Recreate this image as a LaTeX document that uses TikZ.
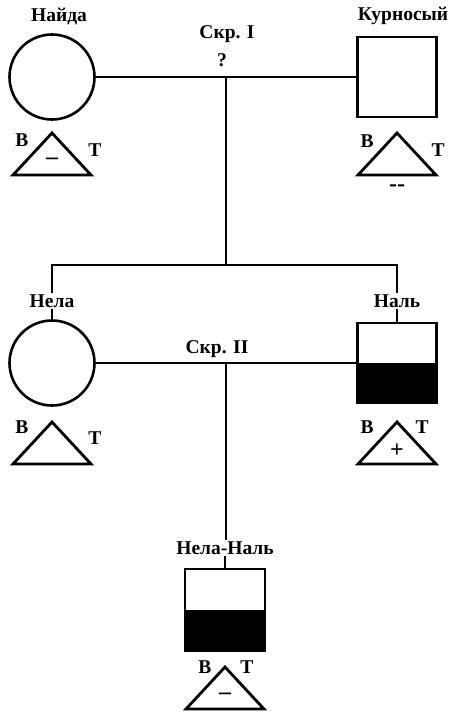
\documentclass[tikz,border=0pt]{standalone}
\usepackage{fontspec}
\setmainfont{Liberation Serif}
\usetikzlibrary{calc}

\begin{document}
\begin{tikzpicture}[
  x=1pt, y=-1pt,
  font=\fontsize{19.5}{22}\selectfont\bfseries,
  female/.style={circle, draw, line width=2.6pt, minimum size=85pt, inner sep=0pt},
  male/.style={rectangle, draw, line width=2.6pt, minimum width=79pt, minimum height=80pt, inner sep=0pt},
  halfbox/.style={male, path picture={\fill (path picture bounding box.west) rectangle (path picture bounding box.south east);}},
  lbl/.style={inner sep=1pt},
  sign/.style={inner sep=1pt, font=\fontsize{24}{24}\selectfont\bfseries},
  tri/.style={line width=2.8pt, line join=miter},
  link/.style={line width=2.3pt}
]
\useasboundingbox (0,0) rectangle (450,717);

% generation I
\node[female] (naida) at (52,77) {};
\node[male] (kurn) at (397,77) {};
\node[lbl] (naida-l) at (59,16) {Найда};
\node[lbl] (kurn-l) at (403,16) {Курносый};
\node[lbl] (skr1) at (227,34) {Скр. I};
\node[lbl] (q1) at (222,60) {?};

% generation II
\node[female] (nela) at (52,363) {};
\node[halfbox] (nal) at (397,363) {};
\node[lbl] (nela-l) at (52,301) {Нела};
\node[lbl] (nal-l) at (397,301) {Наль};
\node[lbl] (skr2) at (217,349) {Скр. II};

% generation III
\node[halfbox, minimum width=80pt, minimum height=82pt] (child) at (225,610) {};
\node[lbl] (child-l) at (225,548) {Нела-Наль};

% connectors
\coordinate (m1) at ($(naida.east)!0.5!(kurn.west)$);
\coordinate (m2) at ($(nela.east)!0.5!(nal.west)$);
\coordinate (sib) at (m1 |- 0,265);
\draw[link] (naida) -- (kurn);
\draw[link] (m1) -- (sib);
\draw[link] (nela-l.north) |- (sib) -| (nal-l.north);
\draw[link] (nela-l.south) -- (nela.north);
\draw[link] (nal-l.south) -- (nal.north);
\draw[link] (nela) -- (nal);
\draw[link] (m2) -- (m2 |- child-l.north);
\draw[link] (child-l.south) -- (child.north);

% blood types
\foreach \p/\ax/\ay in {a/52/133, b/397/133, c/52/422, d/397/422, e/225/667}
  \draw[tri] (\ax,\ay) coordinate (tr-\p) -- ++(-39,42) -- ++(78,0) -- cycle;

\node[lbl] (b-a) at (22,140) {B};
\node[lbl] (t-a) at (95,150) {T};
\node[sign] (s-a) at (52,161) {–};
\node[lbl] (b-b) at (367,141) {B};
\node[lbl] (t-b) at (438,150) {T};
\node[sign] (s-b) at (397,188) {-{}-};
\node[lbl] (b-c) at (22,427) {B};
\node[lbl] (t-c) at (95,438) {T};
\node[lbl] (b-d) at (367,427) {B};
\node[lbl] (t-d) at (422,427) {T};
\node[sign] (s-d) at (397,451) {+};
\node[lbl] (b-e) at (205,667) {B};
\node[lbl] (t-e) at (247,667) {T};
\node[sign] (s-e) at (225,696) {–};
\end{tikzpicture}
\end{document}
